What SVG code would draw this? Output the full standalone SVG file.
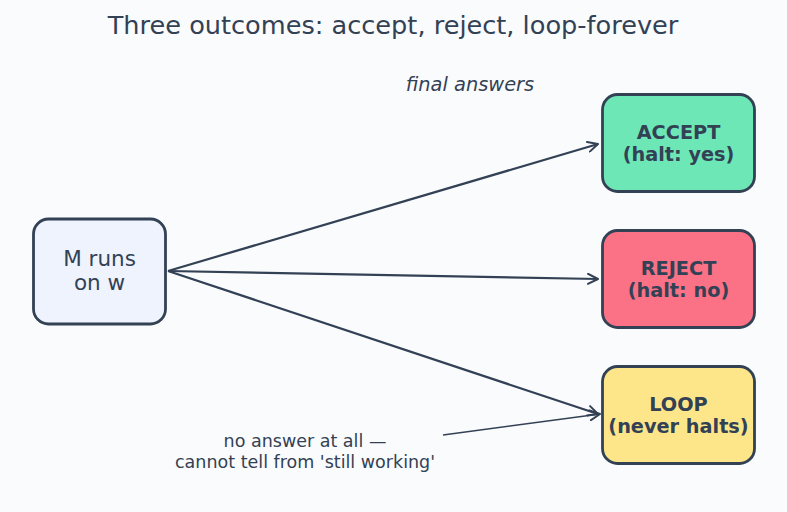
<svg xmlns="http://www.w3.org/2000/svg" width="787" height="512" viewBox="0 0 787 512">
<style>
text{font-family:"DejaVu Sans","Liberation Sans",sans-serif;fill:#334155}
.node{stroke:#334155;stroke-width:2.8}
.lbl{font-size:19.3px;font-weight:bold;text-anchor:middle}
.edge{stroke:#334155;stroke-width:2.2;fill:none;marker-end:url(#ah)}
</style>
<defs>
<marker id="ah" viewBox="0 0 12 12" refX="11" refY="6" markerWidth="12" markerHeight="12" markerUnits="userSpaceOnUse" orient="auto">
<path d="M1,1 L11,6 L1,11" fill="none" stroke="#334155" stroke-width="2" stroke-linecap="round" stroke-linejoin="round"/>
</marker>
</defs>
<rect width="787" height="512" fill="#fafbfd"/>
<text x="393" y="34" font-size="25.6" text-anchor="middle">Three outcomes: accept, reject, loop-forever</text>
<text x="470" y="91" font-size="19.4" font-style="italic" text-anchor="middle">final answers</text>
<g id="connectors">
<line class="edge" x1="168" y1="271" x2="598" y2="144"/>
<line class="edge" x1="168" y1="271" x2="598" y2="279"/>
<line class="edge" x1="168" y1="271" x2="598" y2="414"/>
<line x1="443" y1="435" x2="600" y2="414" stroke="#334155" stroke-width="1.6" marker-end="url(#ah)"/>
</g>
<g id="m">
<rect class="node" x="33.5" y="219" width="132" height="105" rx="15" fill="#eef3fe"/>
<text x="99.5" y="266" font-size="21.5" text-anchor="middle">M runs</text>
<text x="99.5" y="290" font-size="21.5" text-anchor="middle">on w</text>
</g>
<g id="accept">
<rect class="node" x="602.5" y="94.5" width="152" height="97" rx="15" fill="#6ee7b7"/>
<text class="lbl" x="678.5" y="139">ACCEPT</text>
<text class="lbl" x="678.5" y="161">(halt: yes)</text>
</g>
<g id="reject">
<rect class="node" x="602.5" y="230.5" width="152" height="97" rx="15" fill="#fb7185"/>
<text class="lbl" x="678.5" y="275">REJECT</text>
<text class="lbl" x="678.5" y="297">(halt: no)</text>
</g>
<g id="loop">
<rect class="node" x="602.5" y="366.5" width="152" height="97" rx="15" fill="#fde68a"/>
<text class="lbl" x="678.5" y="411">LOOP</text>
<text class="lbl" x="678.5" y="433">(never halts)</text>
</g>
<g id="note">
<text x="305" y="447" font-size="17.5" text-anchor="middle">no answer at all —</text>
<text x="305" y="468" font-size="17.5" text-anchor="middle">cannot tell from 'still working'</text>
</g>
</svg>
